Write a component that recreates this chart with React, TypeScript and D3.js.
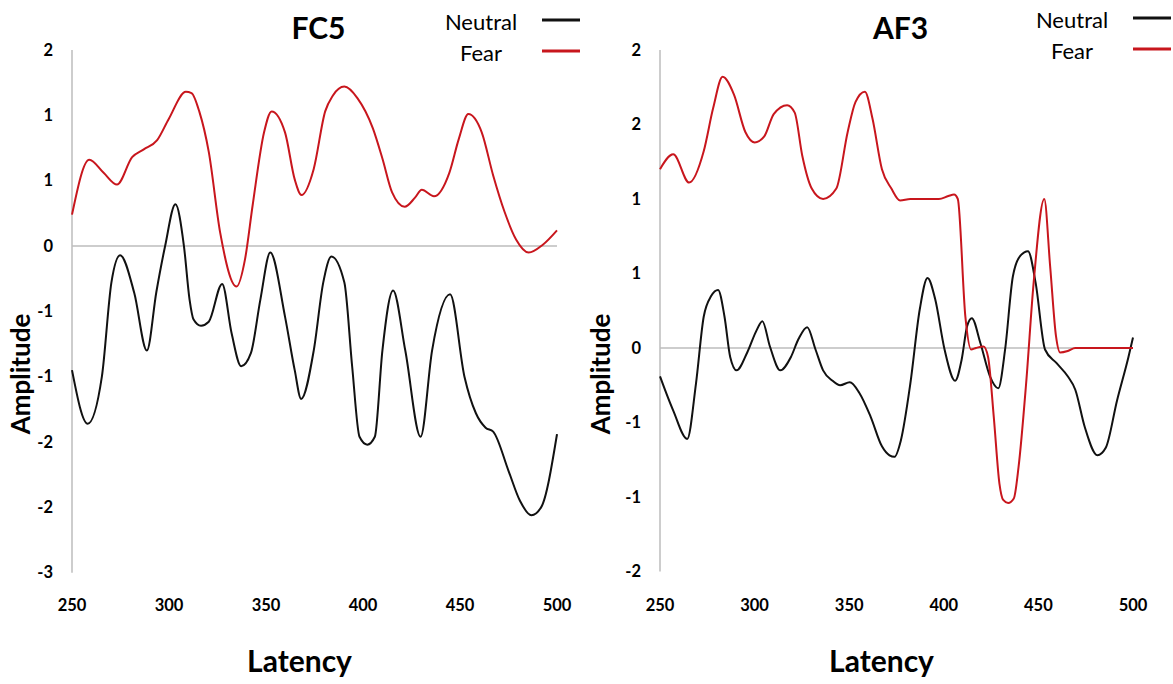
import React from 'react';
import * as d3 from 'd3';

// latency axis
const latencyTicks = [250, 300, 350, 400, 450, 500];

// FC5 panel
const fc5YTicks = [1.5, 1, 0.5, 0, -0.5, -1, -1.5, -2, -2.5];
const fc5YLabels = ['2', '1', '1', '0', '-1', '-1', '-2', '-2', '-3'];
const fc5Fear: [number, number][] = [
  [250, 0.24], [258.9, 0.66], [266.3, 0.56], [273.2, 0.47], [281, 0.68], [287, 0.74],
  [293.9, 0.81], [299.8, 0.97], [308.7, 1.18], [311.6, 1.17], [315.6, 1.03], [320.5, 0.72],
  [326.4, 0.1], [334.8, -0.31], [339.2, -0.1], [343.1, 0.31], [349, 0.87], [352.9, 1.03],
  [359.8, 0.87], [364.8, 0.51], [368.3, 0.39], [374.6, 0.59], [380.5, 1.03], [384.4, 1.15],
  [390.4, 1.22], [397.2, 1.13], [405.1, 0.9], [410, 0.67], [415, 0.41], [421.5, 0.3],
  [426.8, 0.37], [430.3, 0.43], [436.6, 0.38], [444.5, 0.56], [449.4, 0.82], [454.3, 1.01],
  [461.2, 0.87], [467.1, 0.54], [473, 0.26], [478.9, 0.05], [485.4, -0.05], [492.7, 0.01],
  [500, 0.12],
];
const fc5Neutral: [number, number][] = [
  [250, -0.95], [258.1, -1.36], [265.4, -1.0], [270.3, -0.28], [274.8, -0.07], [282.1, -0.36],
  [288.6, -0.8], [293.5, -0.35], [298, 0.0], [303.3, 0.32], [307.7, 0.0], [310.6, -0.41],
  [312.6, -0.56], [316.5, -0.61], [320.5, -0.58], [327.4, -0.29], [332.3, -0.67], [337.2, -0.92],
  [342.2, -0.82], [347.1, -0.41], [352.2, -0.05], [359.8, -0.54], [364.8, -0.95], [368.1, -1.17],
  [374.6, -0.8], [379.5, -0.28], [383.7, -0.08], [390.4, -0.28], [394.4, -0.92], [398.2, -1.46],
  [402.2, -1.52], [406.1, -1.46], [410, -0.8], [415.5, -0.34], [421.8, -0.8], [429.7, -1.46],
  [435.6, -0.8], [444.9, -0.37], [452.3, -1.0], [458.2, -1.28], [463.2, -1.39], [467.1, -1.42],
  [475, -1.72], [480.9, -1.95], [486.8, -2.06], [491.8, -2.0], [500, -1.44],
];

// AF3 panel
const af3YTicks = [2, 1.5, 1, 0.5, 0, -0.5, -1, -1.5];
const af3YLabels = ['2', '2', '1', '1', '0', '-1', '-1', '-2'];
const af3Fear: [number, number][] = [
  [250, 1.2], [257, 1.3], [265.4, 1.11], [273.1, 1.32], [278.1, 1.61], [283.1, 1.82],
  [289.1, 1.7], [295.1, 1.45], [300.1, 1.38], [305.1, 1.42], [310.1, 1.57], [317.2, 1.63],
  [321.2, 1.58], [325.2, 1.29], [330.2, 1.07], [336.2, 1.0], [343.2, 1.07], [349.2, 1.45],
  [353.3, 1.65], [358.3, 1.72], [362.3, 1.54], [367.3, 1.2], [372.3, 1.07], [376.9, 0.99],
  [382.3, 1.0], [397.4, 1.0], [402.4, 1.02], [405.4, 1.03], [407.4, 1.0], [411.4, 0.21],
  [414.4, -0.01], [417, 0.0], [421, 0.01], [423.4, -0.06], [426.4, -0.46], [429.4, -0.91],
  [431.4, -1.02], [434, -1.04], [437, -1.01], [439.5, -0.8], [443.5, -0.24], [447.5, 0.44],
  [453.1, 1.0], [456.2, 0.55], [459.3, 0.08], [461.5, -0.03], [465.5, -0.02],
  [469.5, 0.0], [500, 0.0],
];
const af3Neutral: [number, number][] = [
  [250, -0.19], [257, -0.42], [264.4, -0.61], [269, -0.24], [273.1, 0.21], [277.1, 0.35],
  [280.7, 0.39], [284.1, 0.21], [287.1, -0.06], [290.5, -0.15], [296.1, -0.03], [301.1, 0.12],
  [304.1, 0.18], [308.1, 0.01], [313.6, -0.15], [319.2, -0.06], [323.2, 0.06], [327.8, 0.14],
  [332.2, -0.01], [336.2, -0.15], [341.2, -0.22], [345.2, -0.25], [350.3, -0.23], [355.3, -0.3],
  [361.3, -0.46], [367.3, -0.66], [371.3, -0.72], [373.9, -0.73], [377.3, -0.62], [382.3, -0.24],
  [387.3, 0.26], [391.4, 0.47], [395.4, 0.33], [400.4, -0.01], [406, -0.22], [409.4, -0.08],
  [412.4, 0.15], [414.8, 0.2], [419.4, 0.03], [424.4, -0.19], [428.8, -0.27], [432.4, -0.01],
  [436.5, 0.48], [440.5, 0.62], [444.5, 0.65], [448.5, 0.44], [453.5, -0.01], [459.5, -0.1],
  [465.5, -0.19], [469.5, -0.28], [474.5, -0.53], [481.2, -0.72], [485.6, -0.67], [491.6, -0.35],
  [497.6, -0.06], [500, 0.07],
];

const seriesNames = ['Neutral', 'Fear'];
const seriesColors = ['#111111', '#c8161d'];

const FONT = 'Lato, "Open Sans", sans-serif';
const AXIS_GRAY = '#bdbdbd';

type PanelProps = {
  title: string;
  left: number;
  right: number;
  top: number;
  bottom: number;
  yTicks: number[];
  yLabels: string[];
  neutral: [number, number][];
  fear: [number, number][];
  legendX: number;
  legendY: number;
  labelX: number;
};

function Panel(p: PanelProps) {
  const x = d3.scaleLinear().domain([250, 500]).range([p.left, p.right]);
  const y = d3.scaleLinear()
    .domain([d3.min(p.yTicks)!, d3.max(p.yTicks)!])
    .range([p.bottom, p.top]);
  const line = d3.line<[number, number]>()
    .x(d => x(d[0]))
    .y(d => y(d[1]))
    .curve(d3.curveMonotoneX);
  const mid = (p.left + p.right) / 2;

  return (
    <g>
      <text x={mid + 4} y={39} textAnchor="middle" fontFamily={FONT} fontWeight="bold" fontSize={30}>{p.title}</text>

      {/* axis lines */}
      <line x1={p.left} x2={p.left} y1={p.top} y2={p.bottom} stroke={AXIS_GRAY} strokeWidth={1.5} />
      <line x1={p.left} x2={p.right} y1={y(0)} y2={y(0)} stroke={AXIS_GRAY} strokeWidth={1.5} />

      {p.yTicks.map((t, i) => (
        <text key={t} x={p.left - 19} y={y(t)} dy="0.35em" textAnchor="end"
          fontFamily={FONT} fontWeight="bold" fontSize={16.5}>{p.yLabels[i]}</text>
      ))}
      {latencyTicks.map(t => (
        <text key={t} x={x(t)} y={605} dy="0.35em" textAnchor="middle"
          fontFamily={FONT} fontWeight="bold" fontSize={16.5}>{t}</text>
      ))}

      <path d={line(p.neutral) || ''} fill="none" stroke={seriesColors[0]} strokeWidth={2} />
      <path d={line(p.fear) || ''} fill="none" stroke={seriesColors[1]} strokeWidth={2} />

      {seriesNames.map((n, i) => (
        <g key={n} transform={`translate(${p.legendX},${p.legendY + i * 31})`}>
          <text x={0} y={0} dy="0.35em" textAnchor="middle" fontFamily={FONT} fontSize={22}>{n}</text>
          <line x1={61} x2={99} y1={-2} y2={-2} stroke={seriesColors[i]} strokeWidth={3} />
        </g>
      ))}

      <text transform={`translate(${p.labelX},374) rotate(-90)`} dy="0.35em" textAnchor="middle"
        fontFamily={FONT} fontWeight="bold" fontSize={26}>Amplitude</text>
      <text x={mid - 15} y={672} textAnchor="middle" fontFamily={FONT} fontWeight="bold" fontSize={30}>Latency</text>
    </g>
  );
}

export default function App() {
  return (
    <svg width={1173} height={684} style={{ position: 'absolute', left: 0, top: 0, background: '#fff' }}>
      <Panel title="FC5" left={72} right={557} top={50} bottom={572.7}
        yTicks={fc5YTicks} yLabels={fc5YLabels} neutral={fc5Neutral} fear={fc5Fear}
        legendX={481} legendY={22} labelX={21} />
      <Panel title="AF3" left={660} right={1133} top={50} bottom={571.5}
        yTicks={af3YTicks} yLabels={af3YLabels} neutral={af3Neutral} fear={af3Fear}
        legendX={1072} legendY={20} labelX={601} />
    </svg>
  );
}
